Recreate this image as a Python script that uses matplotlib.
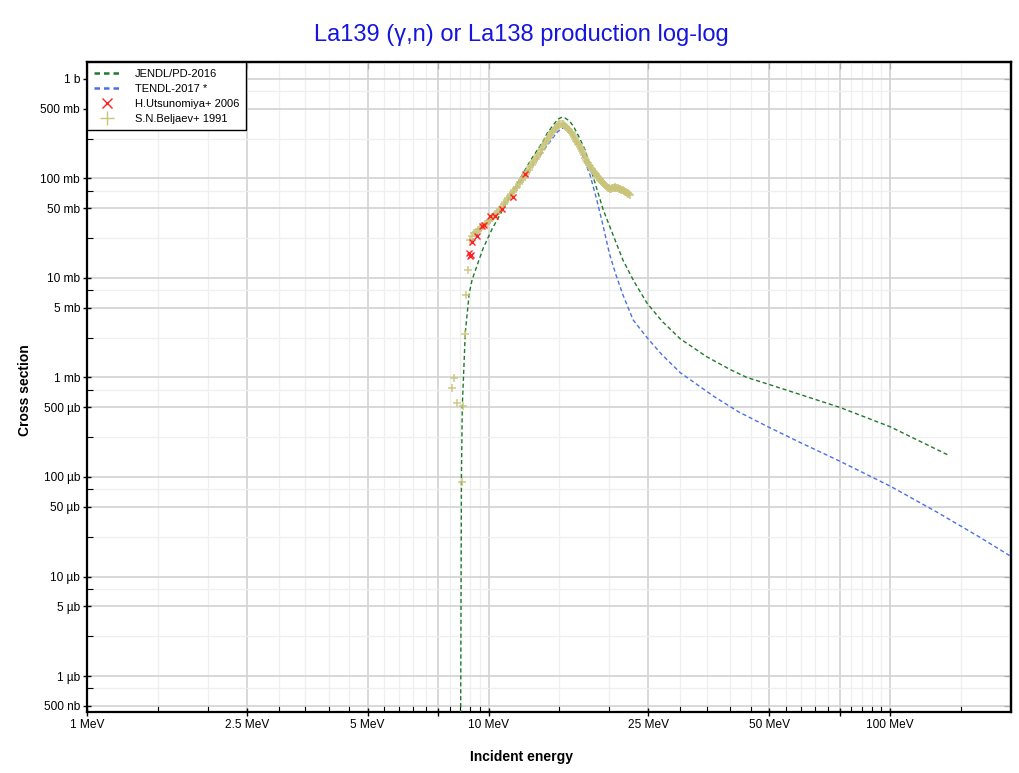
import matplotlib
matplotlib.use("Agg")
import matplotlib.pyplot as plt
from matplotlib.lines import Line2D
from matplotlib.ticker import FixedLocator, NullFormatter

plt.rcParams['font.family'] = ['Liberation Sans', 'DejaVu Sans']

# ---------------- data (energy in MeV, cross section in mb) ----------------
jendl_e = [8.52, 8.56, 8.6, 8.75, 8.95, 9.1, 9.4, 9.7, 10.2, 10.6, 11.2, 11.85,
           12.7, 13.7, 14.0, 14.5, 14.9, 15.2, 15.5, 15.9, 16.3, 16.8, 17.4,
           17.9, 19.3, 21.6, 23, 24.8, 27, 30, 34.9, 40, 44, 50, 60, 75, 100, 140]
jendl_xs = [0.0003, 0.1, 0.5, 2.8, 7.0, 9.6, 14, 20, 31, 41, 61, 92,
            150, 240, 285, 345, 395, 411, 405, 379, 330, 261, 193,
            131, 48.4, 15.2, 9.3, 5.6, 3.7, 2.45, 1.62, 1.2, 1.0, 0.85, 0.67,
            0.50, 0.32, 0.165]

tendl_e = [9.05, 9.3, 9.7, 10.2, 10.6, 11.2, 11.5, 12.4, 13.4, 14.0, 14.8, 15.2,
           15.5, 15.9, 16.2, 16.7, 17.2, 17.9, 18.6, 19.3, 20.0, 20.8, 21.6,
           22.9, 24.8, 27, 30, 36.4, 42, 49.6, 60, 75, 100, 130, 167, 200]
tendl_xs = [23, 26.5, 32, 40, 47, 62, 72, 112, 168, 215, 290, 318,
            322, 300, 270, 215, 165, 108, 61, 33, 17.5, 10.5, 6.8,
            3.8, 2.52, 1.7, 1.12, 0.645, 0.45, 0.32, 0.22, 0.144, 0.081, 0.045,
            0.0249, 0.0159]

utsu_e = [8.93, 8.98, 9.03, 9.12, 9.37, 9.65, 9.72, 10.1, 10.4, 10.8, 11.5, 12.3]
utsu_xs = [17.9, 16.7, 17.1, 23.1, 26.6, 33.5, 34.3, 42.1, 42.1, 49.5, 65, 111]

belj_e = [8.1, 8.2, 8.35, 8.57, 8.66, 8.75, 8.8, 8.87,
          9.0, 9.1, 9.2, 9.3, 9.4, 9.5, 9.6, 9.7, 9.8, 9.9,
          10.0, 10.1, 10.2, 10.3, 10.4, 10.5, 10.6, 10.7, 10.8, 10.9,
          11.0, 11.1, 11.2, 11.3, 11.4, 11.5, 11.6, 11.7, 11.8, 11.9,
          12.0, 12.1, 12.2, 12.3, 12.4, 12.5, 12.6, 12.7, 12.8, 12.9,
          13.0, 13.1, 13.2, 13.3, 13.4, 13.5, 13.6, 13.7, 13.8, 13.9,
          14.0, 14.1, 14.2, 14.3, 14.4, 14.5, 14.6, 14.7, 14.8, 14.9,
          15.0, 15.1, 15.2, 15.3, 15.4, 15.5, 15.6, 15.7, 15.8, 15.9,
          16.0, 16.1, 16.2, 16.3, 16.4, 16.5, 16.6, 16.7, 16.8, 16.9,
          17.0, 17.1, 17.2, 17.3, 17.4, 17.5, 17.6, 17.7, 17.8, 17.9,
          18.0, 18.1, 18.2, 18.3, 18.4, 18.5, 18.6, 18.7, 18.8, 18.9,
          19.0, 19.1, 19.2, 19.3, 19.4, 19.5, 19.6, 19.7, 19.8, 19.9,
          20.0, 20.1, 20.2, 20.3, 20.4, 20.5, 20.6, 20.7, 20.8, 20.9,
          21.0, 21.1, 21.2, 21.3, 21.4, 21.5, 21.6, 21.7, 21.8, 21.9,
          22.0, 22.1, 22.2, 22.3, 22.4, 22.5]
belj_xs = [0.78, 0.98, 0.56, 0.090, 0.52, 2.76, 6.8, 12.1,
           24, 26.5, 28, 29, 30, 31, 32, 33.2, 34.5, 35.7,
           37, 38.5, 40, 41.7, 43.5, 45.2, 47, 49.5, 52, 55,
           58, 60.5, 63, 66, 69, 72.5, 76, 79.5, 83, 87.5,
           92, 96.5, 101, 106, 111, 117, 123, 129, 135, 142,
           150, 158, 166, 174, 182, 191, 200, 211, 222, 233,
           244, 255, 266, 278, 290, 301, 312, 322, 331, 341,
           350, 354, 356, 351, 345, 338, 330, 322, 315, 305,
           295, 283, 272, 261, 250, 240, 230, 222, 215, 206,
           198, 189, 180, 171, 162, 154, 147, 142, 137, 132,
           128, 124, 120, 116, 113, 110, 107, 104, 101, 98.5,
           96, 94, 92, 90, 88, 86, 84, 82.5, 81, 80,
           79.5, 79.2, 79, 79.5, 80, 80.5, 81, 81.2, 81, 80.5,
           80, 79.2, 78.5, 77.7, 77, 76.5, 76, 75.2, 74.5, 73.7,
           73, 72, 71, 70, 69, 68]

x_major = [1, 2.5, 5, 7.5, 10, 25, 50, 75, 100]
x_major_labels = ['1 MeV', '2.5 MeV', '5 MeV', '', '10 MeV', '25 MeV', '50 MeV', '', '100 MeV']
x_minor = [1.5, 2, 3, 3.5, 4, 4.5, 5.5, 6, 6.5, 7, 8, 8.5, 9, 9.5,
           15, 20, 30, 35, 40, 45, 55, 60, 65, 70, 80, 85, 90, 95, 150]
y_major = [1000, 500, 100, 50, 10, 5, 1, 0.5, 0.1, 0.05, 0.01, 0.005, 0.001, 0.0005]
y_major_labels = ['1 b', '500 mb', '100 mb', '50 mb', '10 mb', '5 mb', '1 mb',
                  '500 µb', '100 µb', '50 µb', '10 µb', '5 µb', '1 µb', '500 nb']
y_minor = [750, 250, 75, 25, 7.5, 2.5, 0.75, 0.25, 0.075, 0.025, 0.0075, 0.0025,
           0.00075]

# ---------------- styles ----------------
c_jendl = '#1f7a2a'
c_tendl = '#4a70e6'
c_utsu = '#ff2020'
c_belj = '#c9c47a'

fig = plt.figure(figsize=(10.2, 7.73), dpi=100)
ax = fig.add_axes([87 / 1020, 1 - 712 / 773, (1011 - 87) / 1020, (712 - 62) / 773])
ax.set_xscale('log')
ax.set_yscale('log')
ax.set_xlim(1, 200)
ax.set_ylim(0.000435, 1480)

ax.plot(jendl_e, jendl_xs, color=c_jendl, lw=1.0, dashes=(3, 2), zorder=3)
ax.plot(tendl_e, tendl_xs, color=c_tendl, lw=1.0, dashes=(3, 2), zorder=3)
ax.plot(belj_e, belj_xs, linestyle='none', marker='+', ms=6, mew=1.1,
        color=c_belj, alpha=0.9, zorder=4)
ax.plot(utsu_e, utsu_xs, linestyle='none', marker='x', ms=5, mew=1.0,
        color=c_utsu, zorder=5)

# ticks
ax.xaxis.set_major_locator(FixedLocator(x_major))
ax.xaxis.set_minor_locator(FixedLocator(x_minor))
ax.set_xticklabels(x_major_labels)
ax.xaxis.set_minor_formatter(NullFormatter())
ax.yaxis.set_major_locator(FixedLocator(y_major))
ax.yaxis.set_minor_locator(FixedLocator(y_minor))
ax.set_yticklabels(y_major_labels)
ax.yaxis.set_minor_formatter(NullFormatter())

ax.tick_params(which='major', direction='inout', length=6, width=1.0,
               labelsize=8.6, pad=2, top=False, right=False)
ax.tick_params(which='minor', direction='in', length=4, width=0.8,
               top=False, right=False)

ax.grid(which='major', color='#d2d2d2', lw=1.2, zorder=0)
ax.grid(which='minor', color='#efefef', lw=0.9, zorder=0)
ax.set_axisbelow(True)

for s in ax.spines.values():
    s.set_linewidth(1.6)
    s.set_color('black')

# top / right inward ticks
secx = ax.secondary_xaxis('top')
secx.xaxis.set_major_locator(FixedLocator(x_major))
secx.xaxis.set_minor_locator(FixedLocator(x_minor))
secx.tick_params(which='major', direction='in', length=5, labeltop=False)
secx.tick_params(which='minor', direction='in', length=3, labeltop=False)
secx.xaxis.set_major_formatter(NullFormatter())
secx.xaxis.set_minor_formatter(NullFormatter())
secy = ax.secondary_yaxis('right')
secy.yaxis.set_major_locator(FixedLocator(y_major))
secy.yaxis.set_minor_locator(FixedLocator(y_minor))
secy.tick_params(which='major', direction='in', length=5, labelright=False)
secy.tick_params(which='minor', direction='in', length=3, labelright=False)
secy.yaxis.set_major_formatter(NullFormatter())
secy.yaxis.set_minor_formatter(NullFormatter())
for sa in (secx, secy):
    for s in sa.spines.values():
        s.set_linewidth(1.6)

# legend
handles = [
    Line2D([], [], color=c_jendl, lw=1.8, dashes=(2.2, 1.6)),
    Line2D([], [], color=c_tendl, lw=1.8, dashes=(2.2, 1.6)),
    Line2D([], [], color=c_utsu, lw=0, marker='x', ms=7, mew=1.0),
    Line2D([], [], color=c_belj, lw=0, marker='+', ms=10, mew=1.0),
]
labels = ['JENDL/PD-2016', 'TENDL-2017 *', 'H.Utsunomiya+ 2006', 'S.N.Beljaev+ 1991']
leg = ax.legend(handles, labels, loc='upper left', borderaxespad=0, fontsize=8,
                frameon=True, fancybox=False, edgecolor='black', framealpha=1,
                handlelength=2.4, handletextpad=1.3, labelspacing=0.45,
                borderpad=0.6)
leg.get_frame().set_linewidth(1.0)
leg.set_zorder(10)

fig.text(0.511, 1 - 35 / 773, 'La139 (γ,n) or La138 production log-log',
         ha='center', va='center', fontsize=17, color='#1515e0')
fig.text(0.511, 1 - 757 / 773, 'Incident energy', ha='center', va='center',
         fontsize=10, fontweight='bold')
fig.text(25 / 1020, 1 - 390 / 773, 'Cross section', ha='center', va='center',
         rotation=90, fontsize=10, fontweight='bold')

fig.savefig('out.png', dpi=100, facecolor='white')
